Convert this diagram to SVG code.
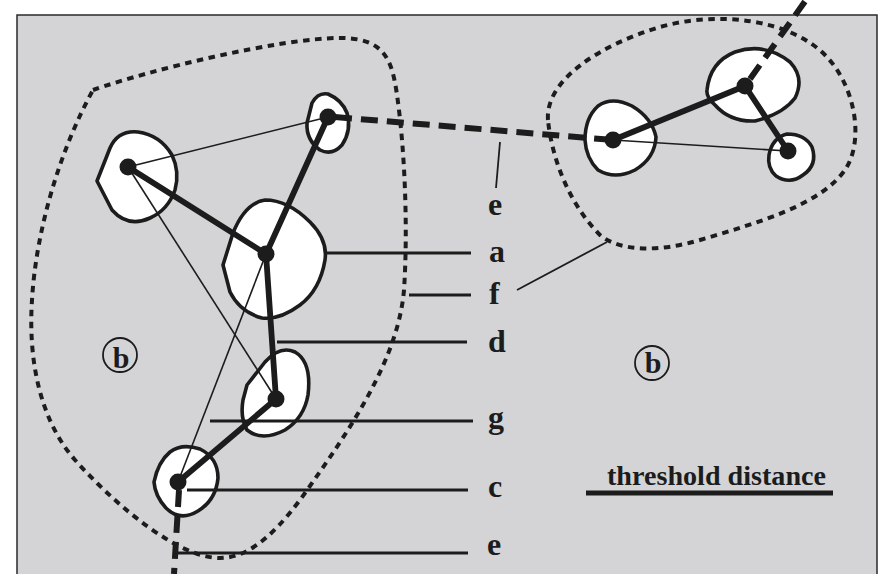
<svg xmlns="http://www.w3.org/2000/svg" width="879" height="574" viewBox="0 0 879 574">
  <style>
    .patch { fill: #ffffff; stroke: #1c1c1c; stroke-width: 3.6; stroke-linejoin: round; }
    .dot { fill: #1c1c1c; }
    .thick { stroke: #1c1c1c; stroke-width: 5.8; stroke-linecap: round; fill: none; }
    .thin { stroke: #1c1c1c; stroke-width: 1.6; fill: none; }
    .link { stroke: #1c1c1c; stroke-width: 6; stroke-dasharray: 17 9; fill: none; }
    .hull { stroke: #1c1c1c; stroke-width: 4; stroke-dasharray: 6.5 5.5; fill: none; }
    .leader { stroke: #1c1c1c; stroke-width: 3; fill: none; }
    .leader-thin { stroke: #1c1c1c; stroke-width: 1.8; fill: none; }
    .lbl { font-family: "Liberation Serif", "Times New Roman", serif; font-weight: bold; font-size: 32px; fill: #1c1c1c; }
    .mark { font-size: 30px; }
    .circ { fill: none; stroke: #1c1c1c; stroke-width: 1.8; }
  </style>

  <!-- frame -->
  <rect x="17" y="15" width="860" height="580" fill="#d4d4d6" stroke="#2a2a2a" stroke-width="1.5"/>

  <!-- cluster hulls -->
  <g id="hulls">
    <path class="hull" d="M93,90 C150,70 280,38 340,38 C385,38 392,60 397,95 C405,150 408,230 404,290 C398,360 350,430 300,500 C270,540 245,558 220,558 C180,558 120,510 75,460 C40,420 28,360 32,300 C36,230 60,150 93,90 Z"/>
    <path class="hull" d="M548,120 C545,80 600,45 660,27 C720,10 790,20 825,55 C855,85 865,140 845,170 C820,205 760,222 700,240 C660,252 620,252 600,235 C570,205 552,160 548,120 Z"/>
  </g>

  <!-- habitat patches -->
  <g id="n1"><path class="patch" d="M97,181 L110,148 Q118,130 138,132 Q160,135 172,155 Q180,172 175,190 Q168,210 150,218 Q128,228 112,210 Z"/></g>
  <g id="n2"><path class="patch" d="M312,103 Q318,92 328,94 Q342,100 347,113 Q352,130 342,145 Q332,156 320,150 Q306,140 307,123 Z"/></g>
  <g id="n3"><path class="patch" d="M223,265 L233,233 Q245,203 265,200 Q288,200 310,222 Q328,240 325,260 Q320,290 300,305 Q280,320 262,318 Q240,312 230,292 Z"/></g>
  <g id="n4"><path class="patch" d="M247,385 L265,362 Q280,345 295,352 Q312,362 308,395 Q304,418 285,430 Q262,442 247,430 Q240,418 243,400 Z"/></g>
  <g id="n5"><path class="patch" d="M154,482 Q158,462 170,452 Q182,443 200,449 Q218,458 218,478 Q216,500 198,511 Q180,522 166,508 Q155,496 154,482 Z"/></g>
  <g id="r1"><path class="patch" d="M585,140 Q585,118 598,106 Q612,96 632,106 Q652,118 656,137 Q655,158 635,170 Q615,180 598,170 Q586,158 585,140 Z"/></g>
  <g id="r2"><path class="patch" d="M707,90 Q710,62 735,52 Q765,42 790,62 Q805,78 795,98 Q783,114 755,121 Q730,122 715,105 Q706,97 707,90 Z"/></g>
  <g id="r3"><path class="patch" d="M769,155 Q772,138 787,134 Q805,134 812,147 Q818,165 803,175 Q790,185 776,176 Q767,168 769,155 Z"/></g>

  <!-- connectors -->
  <g id="connectors">
    <line class="thin" x1="128" y1="167" x2="328" y2="117"/>
    <line class="thin" x1="128" y1="167" x2="276" y2="399"/>
    <line class="thin" x1="266" y1="254" x2="178" y2="482"/>
    <line class="thin" x1="613" y1="140" x2="788" y2="151"/>
    <line class="thick" x1="128" y1="167" x2="266" y2="254"/>
    <line class="thick" x1="328" y1="117" x2="266" y2="254"/>
    <line class="thick" x1="266" y1="254" x2="276" y2="399"/>
    <line class="thick" x1="276" y1="399" x2="178" y2="482"/>
    <line class="thick" x1="613" y1="140" x2="745" y2="86"/>
    <line class="thick" x1="745" y1="86" x2="788" y2="151"/>
    <line class="link" x1="335" y1="117" x2="613" y2="140"/>
    <line class="link" x1="750" y1="79" x2="806" y2="0"/>
    <line class="link" x1="179" y1="490" x2="174" y2="574"/>
  </g>

  <!-- patch centres -->
  <g id="centres">
    <circle class="dot" cx="128" cy="167" r="8.5"/>
    <circle class="dot" cx="328" cy="117" r="8.5"/>
    <circle class="dot" cx="266" cy="254" r="8.5"/>
    <circle class="dot" cx="276" cy="399" r="8.5"/>
    <circle class="dot" cx="178" cy="482" r="8.5"/>
    <circle class="dot" cx="613" cy="140" r="8.5"/>
    <circle class="dot" cx="745" cy="86" r="8.5"/>
    <circle class="dot" cx="788" cy="151" r="8.5"/>
  </g>

  <!-- leaders and labels -->
  <g id="legend">
    <line class="leader-thin" x1="500" y1="142" x2="496" y2="188"/>
    <text class="lbl" x="488" y="215">e</text>
    <line class="leader" x1="325" y1="253" x2="471" y2="253"/>
    <text class="lbl" x="489" y="262">a</text>
    <line class="leader" x1="409" y1="295" x2="471" y2="295"/>
    <line class="leader-thin" x1="517" y1="290" x2="607" y2="242"/>
    <text class="lbl" x="489" y="304">f</text>
    <line class="leader" x1="277" y1="342" x2="467" y2="342" stroke-width="3.5"/>
    <text class="lbl" x="488" y="352">d</text>
    <line class="leader" x1="210" y1="421" x2="473" y2="421"/>
    <text class="lbl" x="488" y="428">g</text>
    <line class="leader" x1="187" y1="490" x2="468" y2="490"/>
    <text class="lbl" x="488" y="497">c</text>
    <line class="leader" x1="176" y1="553" x2="468" y2="553"/>
    <text class="lbl" x="487" y="555">e</text>
  </g>

  <!-- cluster markers -->
  <g id="cluster-left">
    <circle class="circ" cx="120" cy="355" r="17"/>
    <text class="lbl mark" x="121" y="368" text-anchor="middle">b</text>
  </g>
  <g id="cluster-right">
    <circle class="circ" cx="652" cy="363" r="17"/>
    <text class="lbl mark" x="653" y="373" text-anchor="middle">b</text>
  </g>

  <!-- scale bar -->
  <g id="scale">
    <text class="lbl" x="607" y="485" style="font-size:28px" textLength="219" lengthAdjust="spacingAndGlyphs">threshold distance</text>
    <line x1="586" y1="493" x2="833" y2="493" stroke="#1c1c1c" stroke-width="5"/>
  </g>
</svg>
